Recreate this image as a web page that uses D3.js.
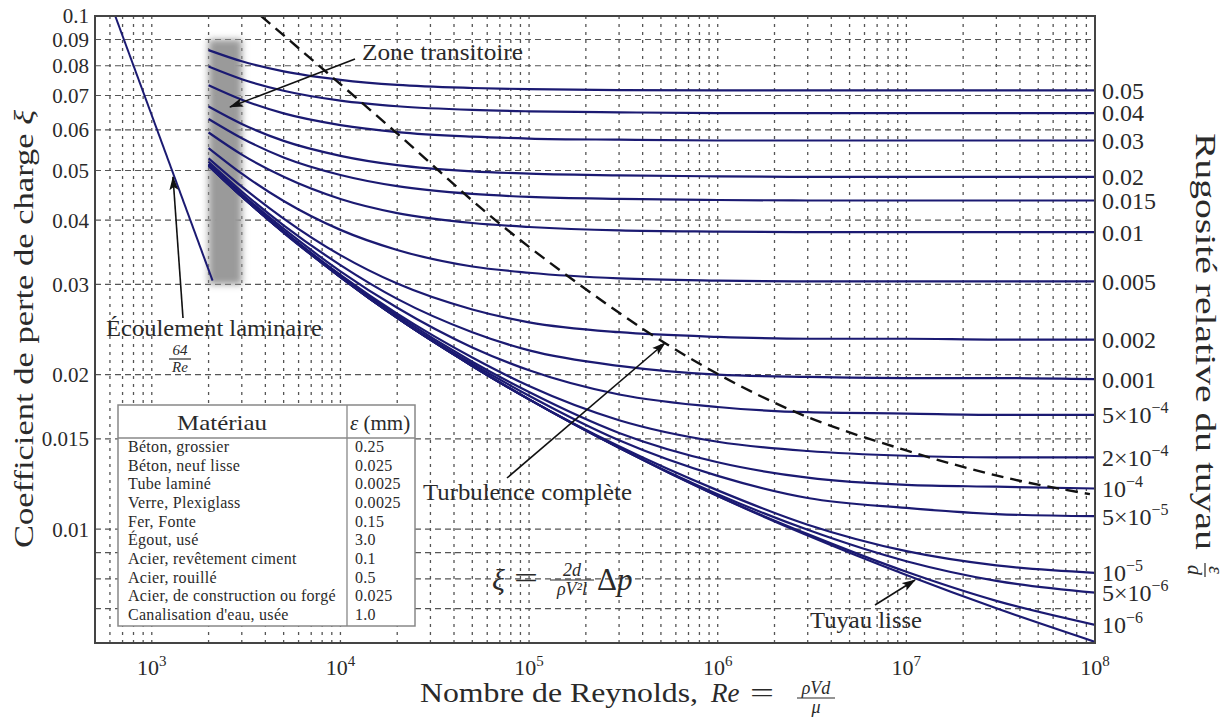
<!DOCTYPE html>
<meta charset="utf-8">
<script src="https://d3js.org/d3.v7.min.js"></script>
<style>
  body { margin: 0; background: #fff; }
  text { font-family: "Liberation Serif", "DejaVu Serif", serif; fill: #2a2a2a; }
</style>
<div id="chart"></div>
<script>

var reGrid = [2e3, 3e3, 5e3, 1e4, 2e4, 5e4, 1e5, 3e5, 1e6, 3e6, 1e7, 3e7, 1e8];

// relative roughness labels (right axis), one per curve below
var roughLabels = ["0.05", "0.04", "0.03", "0.02", "0.015", "0.01", "0.005", "0.002", "0.001",
  "5×10^−4", "2×10^−4", "10^−4", "5×10^−5", "10^−5", "5×10^−6", "10^−6"];

// friction coefficient read at each reGrid point, same order as roughLabels
var frictionRows = [
  [0.0858, 0.0816, 0.0780, 0.0751, 0.0734, 0.0724, 0.0720, 0.0717, 0.0716, 0.0716, 0.0716, 0.0716, 0.0716],
  [0.0797, 0.0753, 0.0715, 0.0684, 0.0667, 0.0656, 0.0652, 0.0649, 0.0647, 0.0647, 0.0647, 0.0647, 0.0647],
  [0.0733, 0.0687, 0.0646, 0.0613, 0.0594, 0.0582, 0.0577, 0.0574, 0.0572, 0.0572, 0.0572, 0.0572, 0.0572],
  [0.0666, 0.0616, 0.0571, 0.0534, 0.0512, 0.0498, 0.0493, 0.0489, 0.0487, 0.0486, 0.0486, 0.0486, 0.0486],
  [0.0630, 0.0578, 0.0530, 0.0490, 0.0466, 0.0450, 0.0444, 0.0440, 0.0438, 0.0437, 0.0437, 0.0437, 0.0437],
  [0.0593, 0.0537, 0.0486, 0.0440, 0.0413, 0.0395, 0.0388, 0.0382, 0.0380, 0.0379, 0.0379, 0.0379, 0.0379],
  [0.0553, 0.0493, 0.0436, 0.0383, 0.0350, 0.0325, 0.0316, 0.0308, 0.0305, 0.0304, 0.0304, 0.0304, 0.0304],
  [0.0528, 0.0465, 0.0403, 0.0342, 0.0301, 0.0268, 0.0253, 0.0242, 0.0237, 0.0235, 0.0235, 0.0234, 0.0234],
  [0.0520, 0.0455, 0.0391, 0.0327, 0.0281, 0.0242, 0.0223, 0.0208, 0.0200, 0.0198, 0.0197, 0.0197, 0.0196],
  [0.0515, 0.0450, 0.0385, 0.0318, 0.0270, 0.0226, 0.0204, 0.0183, 0.0173, 0.0169, 0.0168, 0.0167, 0.0167],
  [0.0513, 0.0447, 0.0381, 0.0313, 0.0263, 0.0216, 0.0190, 0.0163, 0.0148, 0.0142, 0.0139, 0.0138, 0.0138],
  [0.0512, 0.0446, 0.0380, 0.0312, 0.0261, 0.0212, 0.0185, 0.0154, 0.0135, 0.0126, 0.0122, 0.0121, 0.0120],
  [0.0511, 0.0445, 0.0379, 0.0311, 0.0259, 0.0210, 0.0182, 0.0149, 0.0127, 0.0115, 0.0110, 0.0107, 0.0106],
  [0.0511, 0.0445, 0.0379, 0.0310, 0.0258, 0.0208, 0.0179, 0.0145, 0.0119, 0.0102, 0.00906, 0.00850, 0.00822],
  [0.0511, 0.0445, 0.0379, 0.0310, 0.0258, 0.0208, 0.0179, 0.0144, 0.0117, 0.00997, 0.00866, 0.00793, 0.00752],
  [0.0511, 0.0445, 0.0379, 0.0310, 0.0258, 0.0208, 0.0179, 0.0144, 0.0116, 0.00978, 0.00826, 0.00725, 0.00651]
];

// smooth pipe ("Tuyau lisse")
var smoothRow = [0.0511, 0.0445, 0.0378, 0.0310, 0.0258, 0.0208, 0.0179, 0.0144, 0.0116, 0.00972, 0.00814, 0.00701, 0.00603];

// laminar flow 64/Re
var laminarRe = [640, 2100];
var laminarF = [0.1, 0.0305];

// dashed border of complete turbulence
var dashRe = [3800, 1.9e4, 6.8e4, 1.65e5, 5.4e5, 2.5e6, 9.6e6, 3.7e7, 9.4e7];
var dashF = [0.1, 0.0600, 0.0397, 0.0309, 0.0229, 0.0170, 0.0143, 0.0125, 0.0117];

// transition zone
var zoneRe = [2000, 3000];
var zoneF = [0.03, 0.09];

// axis ticks
var yLabelVals = [0.1, 0.09, 0.08, 0.07, 0.06, 0.05, 0.04, 0.03, 0.02, 0.015, 0.01];
var yGridVals = [0.09, 0.08, 0.07, 0.06, 0.05, 0.04, 0.03, 0.02, 0.015, 0.01, 0.009, 0.008, 0.007];
var xLabelVals = [1e3, 1e4, 1e5, 1e6, 1e7, 1e8];

// material table
var materials = ["Béton, grossier", "Béton, neuf lisse", "Tube laminé", "Verre, Plexiglass", "Fer, Fonte",
  "Égout, usé", "Acier, revêtement ciment", "Acier, rouillé", "Acier, de construction ou forgé", "Canalisation d'eau, usée"];
var roughMm = ["0.25", "0.025", "0.0025", "0.0025", "0.15", "3.0", "0.1", "0.5", "0.025", "1.0"];

var W = 1230, H = 722;
var pLeft = 95, pRight = 1095, pTop = 16, pBottom = 643;
var navy = "#1b1a72";

var svg = d3.select("#chart").append("svg")
  .attr("width", W).attr("height", H);

svg.append("rect").attr("width", W).attr("height", H).attr("fill", "#fff");

var defs = svg.append("defs");
defs.append("clipPath").attr("id", "clip")
  .append("rect").attr("x", pLeft).attr("y", pTop).attr("width", pRight - pLeft).attr("height", pBottom - pTop);
defs.append("filter").attr("id", "blur").attr("x", "-50%").attr("width", "200%")
  .append("feGaussianBlur").attr("stdDeviation", 3.5);
defs.append("marker").attr("id", "arrow")
  .attr("markerUnits", "userSpaceOnUse")
  .attr("markerWidth", 14).attr("markerHeight", 10)
  .attr("refX", 13).attr("refY", 5).attr("orient", "auto")
  .append("path").attr("d", "M0,0.5 L14,5 L0,9.5 L3,5 z").attr("fill", "#111");

var x = d3.scaleLog().domain([500, 1e8]).range([pLeft, pRight]);
var y = d3.scaleLog().domain([0.006, 0.1]).range([pBottom, pTop]);

// grid
var xMinor = x.ticks().filter(function(d) { return d > 500 && d < 1e8; });
var grid = svg.append("g");
grid.selectAll(".vg").data(xMinor).enter().append("line")
  .attr("x1", function(d) { return x(d); }).attr("x2", function(d) { return x(d); })
  .attr("y1", pTop).attr("y2", pBottom)
  .attr("stroke", "#555").attr("stroke-width", 1.3).attr("stroke-dasharray", "3,5");
grid.selectAll(".hg").data(yGridVals).enter().append("line")
  .attr("x1", pLeft).attr("x2", pRight)
  .attr("y1", function(d) { return y(d); }).attr("y2", function(d) { return y(d); })
  .attr("stroke", "#555").attr("stroke-width", 1.2).attr("stroke-dasharray", "6,4");

var plot = svg.append("g").attr("clip-path", "url(#clip)");

// transition zone
plot.append("rect")
  .attr("x", x(zoneRe[0])).attr("width", x(zoneRe[1]) - x(zoneRe[0]))
  .attr("y", y(zoneF[1])).attr("height", y(zoneF[0]) - y(zoneF[1]))
  .attr("fill", "#9a9a9a").attr("filter", "url(#blur)");

var line = d3.line()
  .x(function(d) { return x(d[0]); })
  .y(function(d) { return y(d[1]); })
  .curve(d3.curveMonotoneX);

var allRows = frictionRows.concat([smoothRow]);
plot.selectAll(".curve").data(allRows).enter().append("path")
  .attr("d", function(row) { return line(reGrid.map(function(r, i) { return [r, row[i]]; })); })
  .attr("fill", "none").attr("stroke", navy).attr("stroke-width", 2.2);

plot.append("path")
  .attr("d", line(laminarRe.map(function(r, i) { return [r, laminarF[i]]; })))
  .attr("fill", "none").attr("stroke", navy).attr("stroke-width", 2);

plot.append("path")
  .attr("d", line(dashRe.map(function(r, i) { return [r, dashF[i]]; })))
  .attr("fill", "none").attr("stroke", "#111").attr("stroke-width", 2.4).attr("stroke-dasharray", "12,7");

// helper: write "5×10^−4" style text with superscript
function supText(sel, s, supSize, shift) {
  var parts = s.split("^");
  sel.text(null);
  sel.append("tspan").text(parts[0]);
  if (parts.length > 1) {
    sel.append("tspan").attr("dy", -shift).attr("font-size", supSize).text(parts[1]);
  }
}

// left axis labels
svg.selectAll(".yl").data(yLabelVals).enter().append("text")
  .attr("x", 89).attr("y", function(d) { return y(d); }).attr("dy", "0.35em")
  .attr("text-anchor", "end").attr("font-size", 21)
  .text(function(d) { return String(d); });

// bottom axis labels
svg.selectAll(".xl").data(xLabelVals).enter().append("text")
  .attr("x", function(d) { return x(d); }).attr("y", 675)
  .attr("text-anchor", "middle").attr("font-size", 22)
  .each(function(d) { supText(d3.select(this), "10^" + Math.round(Math.log10(d)), 15, 9); });

// right axis labels
var endF = frictionRows.map(function(row) { return row[row.length - 1]; });
svg.selectAll(".rl").data(roughLabels).enter().append("text")
  .attr("x", 1102).attr("y", function(d, i) { return y(endF[i]); }).attr("dy", "0.35em")
  .attr("font-size", 24)
  .each(function(d) { supText(d3.select(this), d, 16, 10); });

// fraction helper
function frac(g, cx, yLine, num, den, size, lineW) {
  g.append("text").attr("x", cx).attr("y", yLine - 4).attr("text-anchor", "middle")
    .attr("font-size", size).attr("font-style", "italic").text(num);
  g.append("text").attr("x", cx).attr("y", yLine + size * 0.85).attr("text-anchor", "middle")
    .attr("font-size", size).attr("font-style", "italic").text(den);
  g.append("line").attr("x1", cx - lineW / 2).attr("x2", cx + lineW / 2)
    .attr("y1", yLine).attr("y2", yLine).attr("stroke", "#2a2a2a").attr("stroke-width", 1.2);
}

// plain text stretched to the width it has in the original
function label(g, x0, y0, size, txt, len) {
  return g.append("text").attr("x", x0).attr("y", y0).attr("font-size", size)
    .attr("textLength", len).attr("lengthAdjust", "spacingAndGlyphs").text(txt);
}

// x title
label(svg, 420, 702, 27, "Nombre de Reynolds,", 278);
svg.append("text").attr("x", 711).attr("y", 702).attr("font-size", 27).attr("font-style", "italic").text("Re");
label(svg, 750, 702, 27, "=", 24);
frac(svg, 816, 698, "ρVd", "μ", 18, 38);

// left title
var ytl = svg.append("text")
  .attr("transform", "translate(33,548) rotate(-90)")
  .attr("font-size", 28).attr("textLength", 438).attr("lengthAdjust", "spacingAndGlyphs");
ytl.append("tspan").text("Coefficient de perte de charge ");
ytl.append("tspan").attr("font-style", "italic").text("ξ");

// right title
var rg = svg.append("g").attr("transform", "translate(1196,133) rotate(90)");
label(rg, 0, 0, 30, "Rugosité relative du tuyau", 417);
frac(rg, 437, -9, "ε", "d", 20, 14);

// table
var tab = svg.append("g");
var tx0 = 118, tx1 = 415, ty0 = 405, ty1 = 626, tyHead = 438, txDiv = 347;
tab.append("rect").attr("x", tx0).attr("y", ty0).attr("width", tx1 - tx0).attr("height", ty1 - ty0)
  .attr("fill", "#fff").attr("stroke", "#888").attr("stroke-width", 1.5);
tab.append("line").attr("x1", tx0).attr("x2", tx1).attr("y1", tyHead).attr("y2", tyHead)
  .attr("stroke", "#888").attr("stroke-width", 1.3);
tab.append("line").attr("x1", txDiv).attr("x2", txDiv).attr("y1", ty0).attr("y2", ty1)
  .attr("stroke", "#888").attr("stroke-width", 1.3);
label(tab, 177, 430, 22, "Matériau", 90);
var hd = tab.append("text").attr("x", 350).attr("y", 430).attr("font-size", 21);
hd.append("tspan").attr("font-style", "italic").text("ε");
hd.append("tspan").text(" (mm)");
var rowY = d3.scaleLinear().domain([0, materials.length - 1]).range([452, 620]);
tab.selectAll(".mat").data(materials).enter().append("text")
  .attr("x", 128).attr("y", function(d, i) { return rowY(i); })
  .attr("font-size", 16).attr("letter-spacing", 0.3).attr("fill", "#333").text(function(d) { return d; });
tab.selectAll(".eps").data(roughMm).enter().append("text")
  .attr("x", 355).attr("y", function(d, i) { return rowY(i); })
  .attr("font-size", 16).attr("letter-spacing", 0.3).attr("fill", "#333").text(function(d) { return d; });

// annotations
function arrow(x1, y1, x2, y2) {
  svg.append("line").attr("x1", x1).attr("y1", y1).attr("x2", x2).attr("y2", y2)
    .attr("stroke", "#111").attr("stroke-width", 1.6).attr("marker-end", "url(#arrow)");
}
label(svg, 362, 60, 23, "Zone transitoire", 161);
arrow(355, 59, 230, 107);

label(svg, 106, 336, 23, "Écoulement laminaire", 216);
frac(svg, 180, 359, "64", "Re", 15, 22);
arrow(183, 318, 173, 177);

label(svg, 423, 500, 23, "Turbulence complète", 209);
arrow(507, 478, 665, 343);

label(svg, 810, 628, 23, "Tuyau lisse", 112);
arrow(875, 605, 915, 580);

// formula
svg.append("text").attr("x", 492).attr("y", 590).attr("font-size", 30).attr("font-style", "italic").text("ξ");
label(svg, 514, 588, 30, "=", 24);
frac(svg, 572, 580, "2d", "ρV²l", 18, 44);
var fm2 = svg.append("text").attr("x", 597).attr("y", 590).attr("font-size", 31);
fm2.append("tspan").text("Δ");
fm2.append("tspan").attr("font-style", "italic").text("p");

// frame
svg.append("rect").attr("x", pLeft).attr("y", pTop).attr("width", pRight - pLeft).attr("height", pBottom - pTop)
  .attr("fill", "none").attr("stroke", "#444").attr("stroke-width", 2);

</script>
